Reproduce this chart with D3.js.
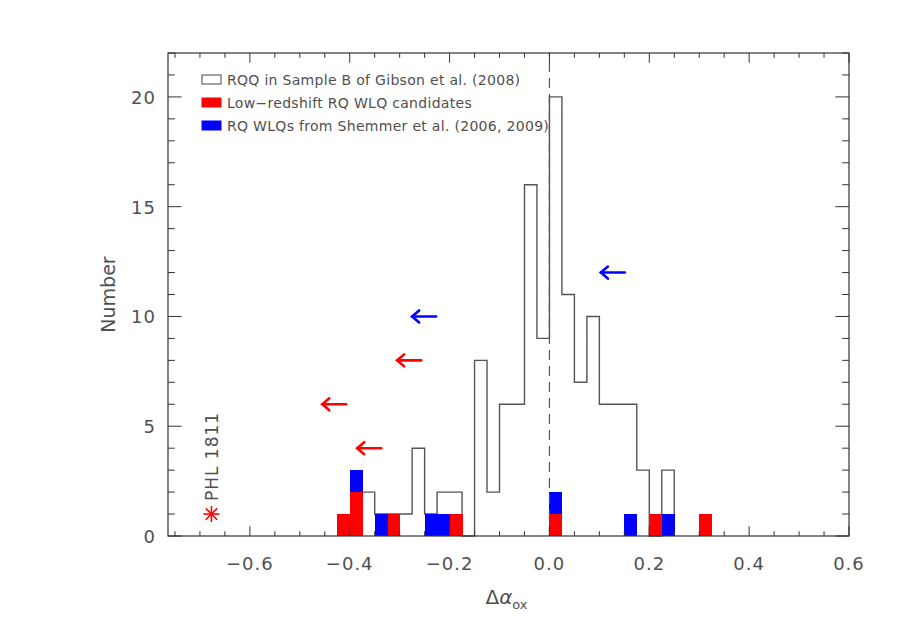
<!DOCTYPE html>
<html><head><meta charset="utf-8">
<script src="https://cdn.jsdelivr.net/npm/d3@7"></script>
<style>body{margin:0;background:#fff}text{font-family:"DejaVu Sans",sans-serif;fill:#505050}</style>
</head><body><svg id="c" width="900" height="643"></svg>
<script>
// ---- data ----
const binWidth = 0.025;
// RQQ histogram (Gibson et al. 2008, Sample B): bin left edges and counts
const rqqBinStarts = [-0.375,-0.35,-0.325,-0.3,-0.275,-0.25,-0.225,-0.2,-0.175,-0.15,-0.125,-0.1,-0.075,-0.05,-0.025,0.0,0.025,0.05,0.075,0.1,0.125,0.15,0.175,0.2,0.225];
const rqqCounts    = [2,1,1,1,4,1,2,2,0,8,2,6,6,16,9,20,11,7,10,6,6,6,3,0,3];
// Low-redshift RQ WLQ candidates (red)
const redBinStarts = [-0.425,-0.4,-0.325,-0.2,0.0,0.2,0.3];
const redCounts    = [1,2,1,1,1,1,1];
// RQ WLQs from Shemmer et al. (blue), stacked on red where both exist
const blueBinStarts = [-0.4,-0.35,-0.25,-0.225,0.0,0.15,0.225];
const blueCounts    = [1,1,1,1,1,1,1];
// upper limits (arrows)
const limitX     = [-0.407,-0.257,-0.337,-0.227,0.151];
const limitY     = [6,8,4,10,12];
const limitColor = ["red","red","red","blue","blue"];
const limitLen = 0.048;
// PHL 1811
const phlX = -0.677, phlY = 1, phlLabel = "PHL 1811";
const xTicks = [-0.6,-0.4,-0.2,0.0,0.2,0.4,0.6];
const yTicks = [0,5,10,15,20];
const legendLabels = ["RQQ in Sample B of Gibson et al. (2008)","Low\u2212redshift RQ WLQ candidates","RQ WLQs from Shemmer et al. (2006, 2009)"];

// ---- chart ----
const svg = d3.select("#c");
const L=168,R=849,T=53,B=536;
const x = d3.scaleLinear().domain([-0.764,0.6]).range([L,R]);
const y = d3.scaleLinear().domain([0,22]).range([B,T]);
const axisCol="#333";

// histogram outline
let p = d3.path();
p.moveTo(x(rqqBinStarts[0]), y(0));
rqqBinStarts.forEach((s,i)=>{ p.lineTo(x(s), y(rqqCounts[i])); p.lineTo(x(s+binWidth), y(rqqCounts[i])); });
p.lineTo(x(rqqBinStarts[rqqBinStarts.length-1]+binWidth), y(0));
svg.append("path").attr("d",p.toString()).attr("fill","none").attr("stroke","#555").attr("stroke-width",1.4);

// red bars
const redMap = new Map();
redBinStarts.forEach((s,i)=>redMap.set(s.toFixed(3),redCounts[i]));
svg.selectAll("rect.red").data(redBinStarts).join("rect").attr("class","red")
  .attr("shape-rendering","crispEdges")
  .attr("x",d=>x(d)).attr("width",d=>x(d+binWidth)-x(d)+0.5)
  .attr("y",(d,i)=>y(redCounts[i])).attr("height",(d,i)=>y(0)-y(redCounts[i])).attr("fill","#ff0000");
svg.selectAll("rect.blue").data(blueBinStarts).join("rect").attr("class","blue")
  .attr("shape-rendering","crispEdges")
  .attr("x",d=>x(d)).attr("width",d=>x(d+binWidth)-x(d)+0.5)
  .attr("y",(d,i)=>y(blueCounts[i]+(redMap.get(d.toFixed(3))||0)))
  .attr("height",(d,i)=>y(0)-y(blueCounts[i])).attr("fill","#0000ff");

// dashed zero line
svg.append("line").attr("x1",x(0)).attr("x2",x(0)).attr("y1",B).attr("y2",T)
  .attr("stroke","#555").attr("stroke-width",1.2).attr("stroke-dasharray","10,6");

// arrows
limitX.forEach((lx,i)=>{
  const c = limitColor[i]==="red"?"#ff0000":"#0000ff";
  const x0=x(lx), x1=x(lx-limitLen), yy=y(limitY[i]);
  const g=svg.append("g").attr("stroke",c).attr("stroke-width",2.6).attr("fill","none").attr("stroke-linecap","round");
  g.append("line").attr("x1",x0).attr("x2",x1).attr("y1",yy).attr("y2",yy);
  g.append("path").attr("d",`M${x1+7},${yy-6}L${x1},${yy}L${x1+7},${yy+6}`);
});

// PHL 1811 asterisk + label
{
  const cx=x(phlX), cy=y(phlY), r=8;
  const g=svg.append("g").attr("stroke","#ff0000").attr("stroke-width",1.6);
  [0,45,90,135].forEach(a=>{const t=a*Math.PI/180;
    g.append("line").attr("x1",cx-r*Math.cos(t)).attr("y1",cy-r*Math.sin(t)).attr("x2",cx+r*Math.cos(t)).attr("y2",cy+r*Math.sin(t));});
  svg.append("text").attr("transform",`translate(${cx+6.5},${cy-13}) rotate(-90)`)
    .attr("font-size",17).attr("letter-spacing",1).text(phlLabel);
}

// axes frame
svg.append("rect").attr("x",L).attr("y",T).attr("width",R-L).attr("height",B-T)
  .attr("fill","none").attr("stroke",axisCol).attr("stroke-width",1.2);

// ticks
const xMinor = d3.range(-0.75,0.6001,0.05);
const yMinor = d3.range(0,22.01,1);
const tk = svg.append("g").attr("stroke",axisCol).attr("stroke-width",1);
xMinor.forEach(v=>{
  const major = xTicks.some(t=>Math.abs(t-v)<1e-6); const len= major?9.7:4.8;
  tk.append("line").attr("x1",x(v)).attr("x2",x(v)).attr("y1",B).attr("y2",B-len);
  tk.append("line").attr("x1",x(v)).attr("x2",x(v)).attr("y1",T).attr("y2",T+len);
});
yMinor.forEach(v=>{
  const major = v%5===0; const len= major?13.6:6.8;
  tk.append("line").attr("y1",y(v)).attr("y2",y(v)).attr("x1",L).attr("x2",L+len);
  tk.append("line").attr("y1",y(v)).attr("y2",y(v)).attr("x1",R).attr("x2",R-len);
});
const fmt=d3.format(".1f");
svg.selectAll("text.xt").data(xTicks).join("text").attr("class","xt")
  .attr("x",d=>x(d)).attr("y",570).attr("text-anchor","middle").attr("font-size",18).attr("letter-spacing",1).text(d=>fmt(d));
svg.selectAll("text.yt").data(yTicks).join("text").attr("class","yt")
  .attr("x",156).attr("y",d=>y(d)+7).attr("text-anchor","end").attr("font-size",18).attr("letter-spacing",1).text(d=>d);

// axis titles
svg.append("text").attr("transform",`translate(115,${(T+B)/2}) rotate(-90)`).attr("text-anchor","middle")
  .attr("font-size",19).text("Number");
const xl = svg.append("text").attr("x",x(0)-64).attr("y",604).attr("font-size",20);
xl.append("tspan").text("\u0394");
xl.append("tspan").attr("font-style","italic").text("\u03b1");
xl.append("tspan").attr("font-size",13).attr("dy",5).text("ox");

// legend
const legColors=["none","#ff0000","#0000ff"];
legendLabels.forEach((t,i)=>{
  const yy = 80 + i*23;
  svg.append("rect").attr("x",202).attr("y",yy-5).attr("width",19).attr("height",9)
    .attr("fill",legColors[i]==="none"?"#fff":legColors[i]).attr("stroke",legColors[i]==="none"?"#444":legColors[i]).attr("stroke-width",1);
  svg.append("text").attr("x",227).attr("y",yy+5).attr("font-size",14).attr("letter-spacing",0.3).text(t);
});
</script></body></html>
